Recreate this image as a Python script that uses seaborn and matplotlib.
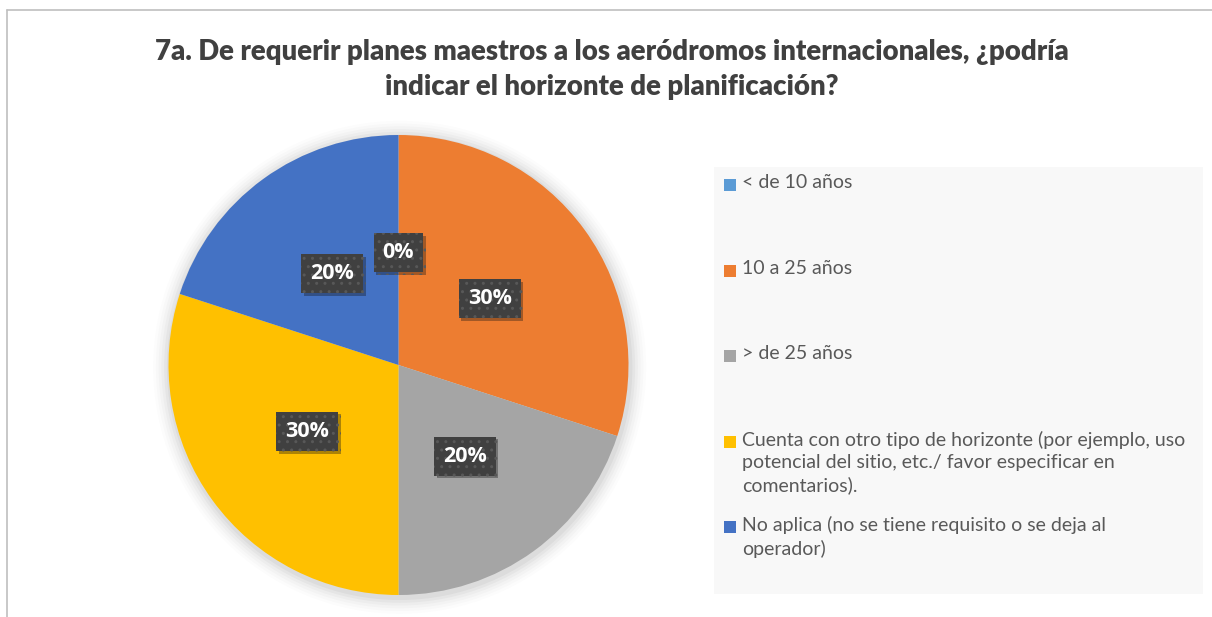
import seaborn as sns
import matplotlib.pyplot as plt
import matplotlib.patheffects as pe
from matplotlib.patches import Rectangle, Circle
from matplotlib.lines import Line2D

# Data
categories = [
    '< de 10 años',
    '10 a 25 años',
    '> de 25 años',
    'Cuenta con otro tipo de horizonte (por ejemplo, uso\npotencial del sitio, etc./ favor especificar en\ncomentarios).',
    'No aplica (no se tiene requisito o se deja al\noperador)',
]
shares = [0, 30, 20, 30, 20]
colors = ['#5B9BD5', '#ED7D31', '#A5A5A5', '#FFC000', '#4472C4']

sns.set_theme(style='white')
plt.rcParams['font.family'] = ['Lato', 'DejaVu Sans']

W, H = 1212, 617
fig = plt.figure(figsize=(W / 100, H / 100), dpi=100)
fig.patch.set_facecolor('white')

# chart frame (top and left edges visible)
fig.add_artist(Line2D([7 / W, 7 / W], [0, 1 - 10 / H], color='#BFBFBF', lw=1.2))
fig.add_artist(Line2D([7 / W, 1], [1 - 10 / H, 1 - 10 / H], color='#BFBFBF', lw=1.2))

fig.text(612 / W, 1 - 52 / H,
         '7a. De requerir planes maestros a los aeródromos internacionales, ¿podría',
         ha='center', va='center', fontsize=19.8, fontweight='heavy', color='#404040')
fig.text(612 / W, 1 - 87 / H, 'indicar el horizonte de planificación?',
         ha='center', va='center', fontsize=19.8, fontweight='heavy', color='#404040')

# pie
cx, cy, r = 398.5, 365, 230
ax = fig.add_axes([(cx - r) / W, (H - cy - r) / H, 2 * r / W, 2 * r / H])

wedges, texts = ax.pie(shares, colors=colors, startangle=90, counterclock=False,
                       radius=1, labels=[f'{v}%' for v in shares], labeldistance=0.49,
                       wedgeprops=dict(linewidth=0))
ax.set_xlim(-1, 1)
ax.set_ylim(-1, 1)
ax.axis('off')

# soft shadow around the pie
for i, a in enumerate([0.035, 0.03, 0.025, 0.02, 0.015, 0.01]):
    ax.add_patch(Circle((0.005, -0.01), 1 + 0.012 * (i + 1), color='black',
                        alpha=a, lw=0, zorder=0, clip_on=False))

for t in texts:
    t.set_fontfamily(['Open Sans', 'DejaVu Sans'])
    t.set_fontsize(15.5)
    t.set_fontweight('bold')
    t.set_color('white')
    t.set_ha('center')
    t.set_va('center')
    t.set_bbox(dict(boxstyle='square,pad=0.42', fc='#404040', ec='#585858', lw=0, hatch='..'))
    t.get_bbox_patch().set_path_effects(
        [pe.SimplePatchShadow(offset=(2, -2), alpha=0.35), pe.Normal()])
    t.set_zorder(5)

# legend panel
lx0, ly0, lx1, ly1 = 714, 167, 1203, 594
lax = fig.add_axes([lx0 / W, (H - ly1) / H, (lx1 - lx0) / W, (ly1 - ly0) / H])
lax.set_xlim(lx0, lx1)
lax.set_ylim(ly1, ly0)
lax.set_facecolor('#F8F8F8')
for s in lax.spines.values():
    s.set_visible(False)
lax.set_xticks([])
lax.set_yticks([])

for i, (lab, col) in enumerate(zip(categories, colors)):
    y = 185 + 85.5 * i
    lax.add_patch(Rectangle((724, y - 6), 12, 12, color=col, lw=0))
    lax.text(742, y - 11, lab, ha='left', va='top', fontsize=14,
             color='#595959', linespacing=1.38)

fig.savefig('out.png', dpi=100)
